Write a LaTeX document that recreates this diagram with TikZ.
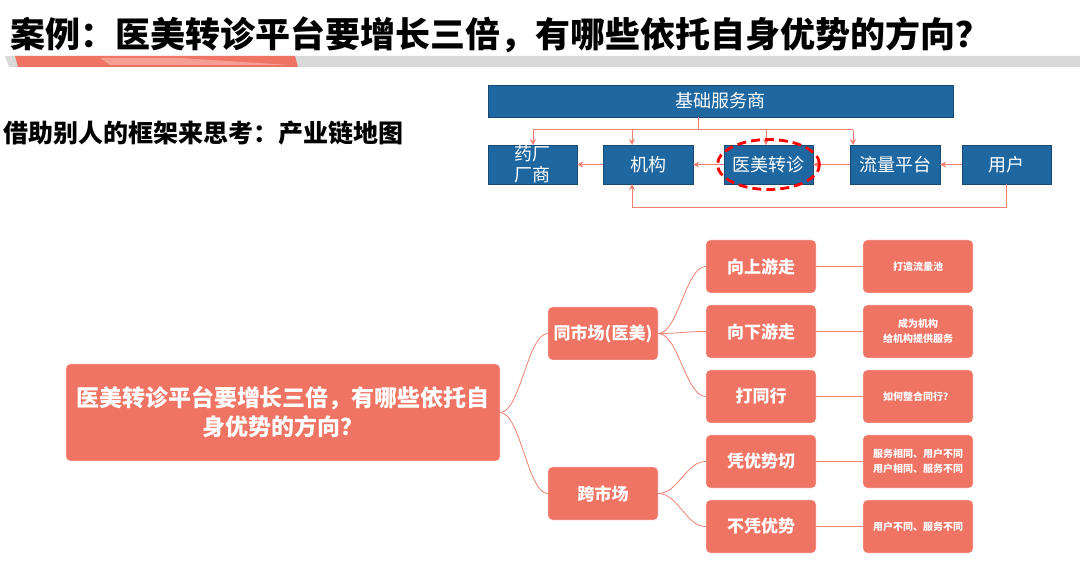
\documentclass[tikz,border=0pt]{standalone}
\usepackage{fontspec}
\setmainfont{Noto Sans CJK SC}
\usetikzlibrary{positioning,arrows.meta,calc}
\definecolor{chainblue}{HTML}{1F67A0}
\definecolor{salmon}{HTML}{F07464}
\definecolor{linkred}{HTML}{F08070}
\tikzset{
  chain/.style={draw=chainblue!70!black, fill=chainblue, text=white, minimum height=39pt, font=\fontsize{18}{21}\selectfont, align=center, inner sep=1pt},
  leaf/.style={fill=salmon, text=white, rounded corners=4pt, minimum width=110pt, minimum height=53pt, align=center, font=\bfseries\fontsize{17}{20}\selectfont, draw=white},
  tip/.style={fill=salmon, text=white, rounded corners=4pt, minimum width=110pt, minimum height=53pt, align=center, font=\bfseries\fontsize{10}{15}\selectfont, draw=white},
  link/.style={draw=linkred, line width=1pt, -{Stealth[length=6pt,width=6pt]}},
  branch/.style={draw=linkred, line width=0.8pt}
}
\begin{document}
\begin{tikzpicture}[x=1pt, y=-1pt]
\useasboundingbox (0,0) rectangle (1080,569);

% title and bar
\node[anchor=west, inner sep=0pt, font=\bfseries\fontsize{35}{38}\selectfont] (title) at (10,35) {案例：医美转诊平台要增长三倍，有哪些依托自身优势的方向？};
\fill[gray!30] (5,56) -- (1080,56) -- (1080,67) -- (9,67) -- cycle;
\fill[salmon] (15,56) -- (295,56) -- (298,67) -- (18,67) -- cycle;
\fill[salmon!70] (100,58) -- (180,58) -- (290,65) -- (110,65) -- cycle;
\node[anchor=west, inner sep=0pt, font=\bfseries\fontsize{25}{28}\selectfont] (sub) at (3,133) {借助别人的框架来思考：产业链地图};

% chain map
\node[chain, minimum width=465pt, minimum height=32pt] (base) at (720.5,101) {基础服务商};
\node[chain, minimum width=89pt] (pharma) at (532.5,164.5) {药厂\\厂商};
\node[chain, minimum width=90pt] (inst) at (648,164.5) {机构};
\node[chain, minimum width=89pt] (med) at (768.5,164.5) {医美转诊};
\node[chain, minimum width=90pt] (flow) at (895,164.5) {流量平台};
\node[chain, minimum width=89pt] (user) at (1006.5,164.5) {用户};
\coordinate (split) at (698,130);
\draw[branch, line width=1pt] (base.south -| split) -- (split);
\draw[branch, line width=1pt] (533,130) -- (853,130);
\foreach \n/\x in {pharma/533, inst/632, med/766, flow/853}
  \draw[link] (\x,130) -- (\x,145);
\draw[link] (user) -- (flow);
\draw[link] (flow) -- (med);
\draw[link] (med) -- (inst);
\draw[link] (inst) -- (pharma);
\draw[link] (user.south) -- ++(0,23) -| (632,184);
\draw[red, line width=2.8pt, dash pattern=on 9pt off 5pt] (med) ellipse (51pt and 25pt);

% tree
\node[leaf, minimum width=434pt, minimum height=97pt, font=\bfseries\fontsize{23}{29}\selectfont] (root) at (283,412.5) {医美转诊平台要增长三倍，有哪些依托自\\身优势的方向？};
\node[leaf] (same) at (603,333.5) {同市场(医美)};
\node[leaf] (cross) at (603,493.5) {跨市场};
\node[leaf] (up) at (761,266.5) {向上游走};
\node[leaf] (down) at (761,331.5) {向下游走};
\node[leaf] (peer) at (761,396.5) {打同行};
\node[leaf] (adv) at (761,461.5) {凭优势切};
\node[leaf] (noadv) at (761,526.5) {不凭优势};
\node[tip] (pool) at (918,266.5) {打造流量池};
\node[tip] (serve) at (918,331.5) {成为机构\\给机构提供服务};
\node[tip] (merge) at (918,396.5) {如何整合同行？};
\node[tip] (diff) at (918,461.5) {服务相同、用户不同\\用户相同、服务不同};
\node[tip] (both) at (918,526.5) {用户不同、服务不同};
\foreach \a/\b in {root/same, root/cross, same/up, same/down, same/peer, cross/adv, cross/noadv}
  \draw[branch] (\a.east) .. controls ($(\a.east)+(20,0)$) and ($(\b.west)+(-20,0)$) .. (\b.west);
\foreach \a/\b in {up/pool, down/serve, peer/merge, adv/diff, noadv/both}
  \draw[branch] (\a) -- (\b);
\end{tikzpicture}
\end{document}
